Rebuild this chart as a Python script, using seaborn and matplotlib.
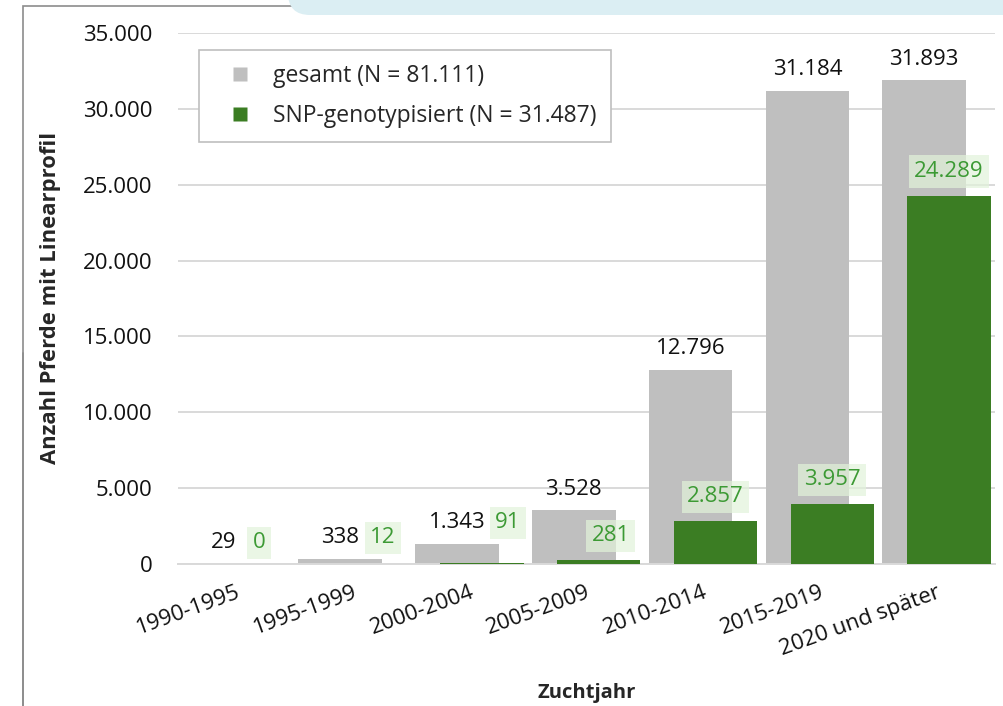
import matplotlib
matplotlib.use("Agg")
import matplotlib.pyplot as plt
from matplotlib.patches import FancyBboxPatch, Rectangle
from matplotlib.lines import Line2D
import seaborn as sns
import pandas as pd

# ---- data ----
categories = ["1990-1995", "1995-1999", "2000-2004", "2005-2009",
              "2010-2014", "2015-2019", "2020 und später"]
gesamt = [29, 338, 1343, 3528, 12796, 31184, 31893]
snp = [0, 12, 91, 281, 2857, 3957, 24289]
legend_labels = ["gesamt (N = 81.111)", "SNP-genotypisiert (N = 31.487)"]
y_ticks = [0, 5000, 10000, 15000, 20000, 25000, 30000, 35000]

# ---- style ----
GRAY = "#bfbfbf"
GREEN = "#3b7d23"
GREEN_TXT = "#3c9a34"
FONT = "Open Sans"
W, H, DPI = 1004, 706, 100
BAR_W = 0.715
OFF = 0.107
FS = 16
# label adjustments (pixels) for the small green labels
green_dx_px = [11, 18, 26, 12, 0, 0, 0]
green_anchor_gray = [True, True, True, False, False, False, False]


def fmt(v):
    return f"{v:,}".replace(",", ".")


sns.set_theme(style="white")
plt.rcParams["font.family"] = [FONT, "DejaVu Sans"]

fig = plt.figure(figsize=(W / DPI, H / DPI), dpi=DPI)

# decorative frame (left and top edge visible) + blue band
fig.add_artist(Rectangle((23 / W, -0.2), 1.5, 1.2 - 6 / H, transform=fig.transFigure,
                         facecolor="none", edgecolor="#8c8c8c", lw=1.2, zorder=0))
fig.add_artist(Line2D([23 / W, 23 / W], [0, 0.5], transform=fig.transFigure,
                      color="#8c8c8c", lw=1.2, zorder=0))
fig.add_artist(FancyBboxPatch((288 / W, 1 - 15 / H), 800 / W, 60 / H,
                              boxstyle="round,pad=0,rounding_size=0.022",
                              transform=fig.transFigure, facecolor="#dbeef3",
                              edgecolor="none", mutation_aspect=W / H, zorder=1))

ax = fig.add_axes([177.5 / W, 1 - 564 / H, (995 - 177.5) / W, (564 - 33) / H])
ax.patch.set_alpha(0)

df = pd.DataFrame({"Zuchtjahr": categories, "gesamt": gesamt, "snp": snp})

sns.barplot(data=df, x="Zuchtjahr", y="gesamt", color=GRAY, width=BAR_W,
            saturation=1, ax=ax, linewidth=0, edgecolor="none")
n = len(categories)
gray_patches = list(ax.patches)
for p in gray_patches:
    p.set_x(p.get_x() - OFF)
    p.set_zorder(2)
sns.barplot(data=df, x="Zuchtjahr", y="snp", color=GREEN, width=BAR_W,
            saturation=1, ax=ax, linewidth=0, edgecolor="none")
green_patches = list(ax.patches)[n:]
for p in green_patches:
    p.set_x(p.get_x() + OFF)
    p.set_zorder(3)

ax.set_ylim(0, 35000)
ax.set_xlim(-0.5, n - 0.5)
ax.set_yticks(y_ticks)
ax.set_yticklabels([fmt(t) for t in y_ticks])
ax.yaxis.grid(True, color="#d9d9d9", linewidth=1.4)
ax.set_axisbelow(True)
for s in ["left", "right", "top"]:
    ax.spines[s].set_visible(False)
ax.spines["bottom"].set_color("#d9d9d9")
ax.spines["bottom"].set_linewidth(1.4)
ax.tick_params(axis="y", length=0, pad=18, labelsize=FS, labelcolor="#111111")
ax.tick_params(axis="x", length=0, pad=13, labelsize=FS, labelcolor="#111111")
ax.set_xticks(range(n))
ax.set_xticklabels(categories, rotation=20, ha="right", rotation_mode="anchor")

ax.set_xlabel("Zuchtjahr", fontsize=14.5, fontweight="bold", labelpad=17)
ax.set_ylabel("Anzahl Pferde mit Linearprofil", fontsize=15.8,
              fontweight="bold", labelpad=16)

# value labels
for i, (p, v) in enumerate(zip(gray_patches, gesamt)):
    cx = p.get_x() + p.get_width() / 2
    ax.annotate(fmt(v), (cx, v), xytext=(0, 21 * 0.72), textcoords="offset points",
                ha="center", va="center", fontsize=FS, color="#111111", zorder=5)
for i, (p, v) in enumerate(zip(green_patches, snp)):
    cx = p.get_x() + p.get_width() / 2
    yref = gesamt[i] if green_anchor_gray[i] else v
    dy = 21 if green_anchor_gray[i] else 24
    ax.annotate(fmt(v), (cx, yref), xytext=(green_dx_px[i] * 0.72, dy * 0.72),
                textcoords="offset points", ha="center", va="center",
                fontsize=FS, color=GREEN_TXT, zorder=6,
                bbox=dict(boxstyle="square,pad=0.25", facecolor="#e2f3da",
                          edgecolor="none", alpha=0.7))

# legend
handles = [Line2D([], [], ls="none", marker="s", markersize=10.5,
                  markerfacecolor=GRAY, markeredgecolor="none"),
           Line2D([], [], ls="none", marker="s", markersize=10.5,
                  markerfacecolor=GREEN, markeredgecolor="none")]
leg = fig.legend(handles, legend_labels, loc="upper left",
                 bbox_to_anchor=(199 / W, 1 - 50 / H), frameon=True,
                 fancybox=False, fontsize=16.5, handlelength=2.4,
                 handletextpad=0.25, labelspacing=0.7,
                 borderpad=0.6, borderaxespad=0)
leg.get_frame().set_edgecolor("#bfbfbf")
leg.get_frame().set_linewidth(1.2)
leg.get_frame().set_facecolor("white")
leg.get_frame().set_alpha(1)

fig.savefig("out.png", dpi=DPI)
